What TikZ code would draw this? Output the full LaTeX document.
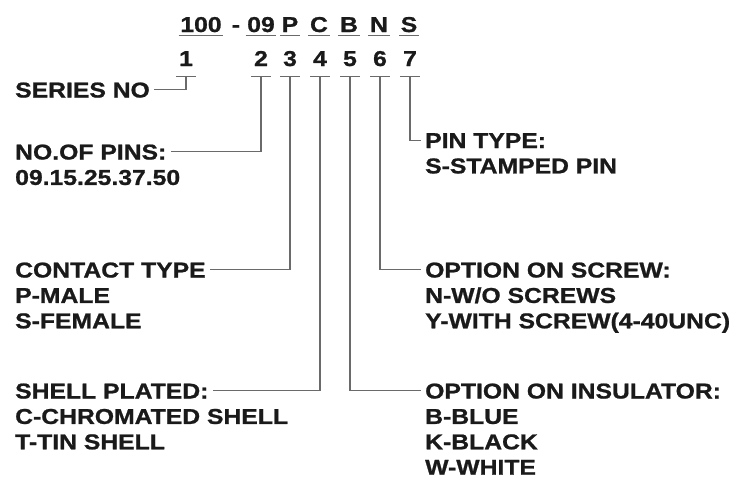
\documentclass[tikz,border=0pt]{standalone}
\usepackage{fontspec}
\newfontfamily\codefont{Liberation Sans}[FakeStretch=1.15, FakeBold=1]
\usetikzlibrary{positioning}
\definecolor{ink}{HTML}{1A1A1A}
\definecolor{wirecol}{HTML}{6A6A6A}

\begin{document}
\begin{tikzpicture}[x=1pt, y=-1pt,
  txt/.style={font=\codefont\bfseries\fontsize{21.5}{25}\selectfont, text=ink, inner sep=0pt},
  part/.style={txt, anchor=base, inner xsep=1.5pt, text depth=3.5pt},
  digit/.style={txt, anchor=base, text depth=10pt, minimum width=19pt},
  title/.style={txt, anchor=base west, text height=15.4pt, text depth=0pt},
  desc/.style={txt, text height=15.4pt, text depth=0pt},
  uline/.style={wirecol, line width=1.3pt},
  wire/.style={wirecol, line width=1.3pt, shorten >=4pt}]

\useasboundingbox (0,0) rectangle (751,479);

% Part number
\foreach \x/\t/\n in {201/100/a, 261/09/b, 290/P/c, 319/C/d, 349/B/e, 379/N/f, 409/S/g} {
  \node[part] (p\n) at (\x,32) {\t};
  \draw[uline] (p\n.south west) -- (p\n.south east);
}
\node[part] (dash) at (236,32) {-};

% Position numbers
\foreach \x/\n in {186/1, 261/2, 290/3, 320/4, 350/5, 380/6, 410/7} {
  \node[digit] (n\n) at (\x,66) {\n};
  \draw[uline] (n\n.south west) -- (n\n.south east);
}

% ---- Left side ----
\node[title] (series) at (15,97.5) {SERIES NO};

\node[title] (pins) at (15,159.5) {NO.OF PINS:};
\node[desc, below=9.6pt of pins.south west, anchor=north west] (pinsA) {09.15.25.37.50};

\node[title] (contact) at (15,277.5) {CONTACT TYPE};
\node[desc, below=9.6pt of contact.south west, anchor=north west] (contactA) {P-MALE};
\node[desc, below=9.6pt of contactA.south west, anchor=north west] (contactB) {S-FEMALE};

\node[title] (shell) at (15,398.5) {SHELL PLATED:};
\node[desc, below=9.6pt of shell.south west, anchor=north west] (shellA) {C-CHROMATED SHELL};
\node[desc, below=9.6pt of shellA.south west, anchor=north west] (shellB) {T-TIN SHELL};

% ---- Right side ----
\node[title] (pintype) at (425,148) {PIN TYPE:};
\node[desc, below=9.6pt of pintype.south west, anchor=north west] (pintypeA) {S-STAMPED PIN};

\node[title] (screw) at (425,277.5) {OPTION ON SCREW:};
\node[desc, below=9.6pt of screw.south west, anchor=north west] (screwA) {N-W/O SCREWS};
\node[desc, below=9.6pt of screwA.south west, anchor=north west] (screwB) {Y-WITH SCREW(4-40UNC)};

\node[title] (insul) at (425,398.5) {OPTION ON INSULATOR:};
\node[desc, below=9.6pt of insul.south west, anchor=north west] (insulA) {B-BLUE};
\node[desc, below=9.6pt of insulA.south west, anchor=north west] (insulB) {K-BLACK};
\node[desc, below=9.6pt of insulB.south west, anchor=north west] (insulC) {W-WHITE};

% Leaders
\draw[wire] (n1.south) |- (series.east);
\draw[wire] (n2.south) |- (pins.east);
\draw[wire] (n3.south) |- (contact.east);
\draw[wire] (n4.south) |- (shell.east);
\draw[wire] (n5.south) |- (insul.west);
\draw[wire] (n6.south) |- (screw.west);
\draw[wire] (n7.south) |- (pintype.west);

\end{tikzpicture}
\end{document}
